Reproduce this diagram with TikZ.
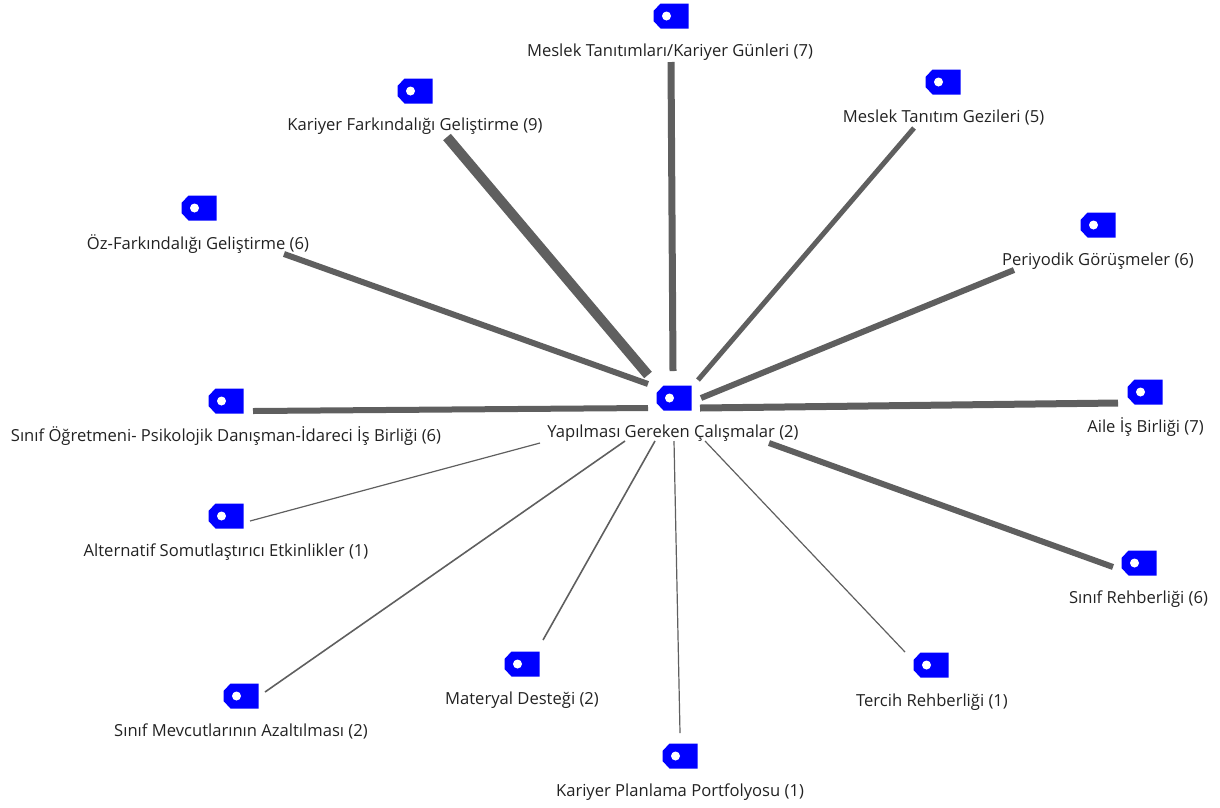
\documentclass[tikz,border=0pt]{standalone}
\usepackage{fontspec}
\setmainfont{Open Sans}
\usepackage{xcolor}
\definecolor{tagblue}{HTML}{0000FF}
\definecolor{linkgray}{HTML}{5F5F5F}
\definecolor{lblgray}{HTML}{222222}
\tikzset{
  code_tag/.style = {rectangle, inner sep=0pt, minimum width=35pt, minimum height=25pt,
    path picture={
      \begin{scope}[shift={(path picture bounding box.center)}]
        \fill[tagblue] (-10.5,-12.5) -- (17.5,-12.5) -- (17.5,12.5) -- (-10.5,12.5) -- (-17.5,5) -- (-17.5,-5) -- cycle;
        \fill[white] (-4.5,0) circle (4.5);
      \end{scope}
    }},% blue label icon
  code_lbl/.style = {align=center, inner sep=0pt, text=lblgray, text height=12pt, text depth=4pt,
    font=\fontsize{16.6}{19}\selectfont},% code name with its frequency
  link_w/.style = {draw=linkgray, line width=#1}% width follows the frequency
}
\begin{document}
\begin{tikzpicture}[x=1pt,y=-1pt]
    \useasboundingbox (0,0) rectangle (1220,807);
    % centre code
    \node [code_tag] (hub) at (674,398) {};
    \node [code_lbl] (hub_l) at (673,433) {Yapılması Gereken Çalışmalar (2)};
    % codes round it, clockwise from the top
    \node [code_tag] (meslek) at (671,16) {};
    \node [code_lbl] (meslek_l) at (670,52) {Meslek Tanıtımları/Kariyer Günleri (7)};
    \node [code_tag] (gezi) at (943,82) {};
    \node [code_lbl] (gezi_l) at (943.5,118) {Meslek Tanıtım Gezileri (5)};
    \node [code_tag] (periyodik) at (1098,225) {};
    \node [code_lbl] (periyodik_l) at (1098,261) {Periyodik Görüşmeler (6)};
    \node [code_tag] (aile) at (1145,392) {};
    \node [code_lbl] (aile_l) at (1145.5,428) {Aile İş Birliği (7)};
    \node [code_tag] (rehber) at (1139,563) {};
    \node [code_lbl] (rehber_l) at (1138.5,599) {Sınıf Rehberliği (6)};
    \node [code_tag] (tercih) at (931,665) {};
    \node [code_lbl] (tercih_l) at (932,702) {Tercih Rehberliği (1)};
    \node [code_tag] (portfolyo) at (680,756) {};
    \node [code_lbl] (portfolyo_l) at (680,792) {Kariyer Planlama Portfolyosu (1)};
    \node [code_tag] (materyal) at (522,664) {};
    \node [code_lbl] (materyal_l) at (522,700) {Materyal Desteği (2)};
    \node [code_tag] (mevcut) at (241,696) {};
    \node [code_lbl] (mevcut_l) at (241,732) {Sınıf Mevcutlarının Azaltılması (2)};
    \node [code_tag] (alternatif) at (226,516) {};
    \node [code_lbl] (alternatif_l) at (226,552) {Alternatif Somutlaştırıcı Etkinlikler (1)};
    \node [code_tag] (isbirligi) at (226,401) {};
    \node [code_lbl] (isbirligi_l) at (226,437) {Sınıf Öğretmeni- Psikolojik Danışman-İdareci İş Birliği (6)};
    \node [code_tag] (oz) at (199,208) {};
    \node [code_lbl] (oz_l) at (198,245) {Öz-Farkındalığı Geliştirme (6)};
    \node [code_tag] (farkindalik) at (415,91) {};
    \node [code_lbl] (farkindalik_l) at (415,126) {Kariyer Farkındalığı Geliştirme (9)};
    % free ends of the links
    \coordinate (meslek_a) at (671,62);       \coordinate (meslek_b) at (673,371);
    \coordinate (gezi_a) at (914,128);        \coordinate (gezi_b) at (698,380);
    \coordinate (periyodik_a) at (1014,270);  \coordinate (periyodik_b) at (701,398);
    \coordinate (aile_a) at (1118,403);       \coordinate (aile_b) at (700,408);
    \coordinate (rehber_a) at (1113,567);     \coordinate (rehber_b) at (769,443);
    \coordinate (tercih_a) at (905,652);      \coordinate (tercih_b) at (705,441);
    \coordinate (portfolyo_a) at (680,733);   \coordinate (portfolyo_b) at (674,441);
    \coordinate (materyal_a) at (543,640);    \coordinate (materyal_b) at (655,441);
    \coordinate (mevcut_a) at (265,692);      \coordinate (mevcut_b) at (625,441);
    \coordinate (alternatif_a) at (250,521);  \coordinate (alternatif_b) at (540,443);
    \coordinate (isbirligi_a) at (253,411);   \coordinate (isbirligi_b) at (648,408);
    \coordinate (oz_a) at (284,254);          \coordinate (oz_b) at (648,384);
    \coordinate (farkindalik_a) at (447,137); \coordinate (farkindalik_b) at (648,375);
    % links
    \draw [link_w=7pt] (meslek_a) -- (meslek_b);
    \draw [link_w=5pt] (gezi_a) -- (gezi_b);
    \draw [link_w=6pt] (periyodik_a) -- (periyodik_b);
    \draw [link_w=7pt] (aile_a) -- (aile_b);
    \draw [link_w=6pt] (rehber_a) -- (rehber_b);
    \draw [link_w=1.2pt] (tercih_a) -- (tercih_b);
    \draw [link_w=1.2pt] (portfolyo_a) -- (portfolyo_b);
    \draw [link_w=1.6pt] (materyal_a) -- (materyal_b);
    \draw [link_w=1.6pt] (mevcut_a) -- (mevcut_b);
    \draw [link_w=1.2pt] (alternatif_a) -- (alternatif_b);
    \draw [link_w=6pt] (isbirligi_a) -- (isbirligi_b);
    \draw [link_w=6pt] (oz_a) -- (oz_b);
    \draw [link_w=10pt] (farkindalik_a) -- (farkindalik_b);
\end{tikzpicture}
\end{document}
